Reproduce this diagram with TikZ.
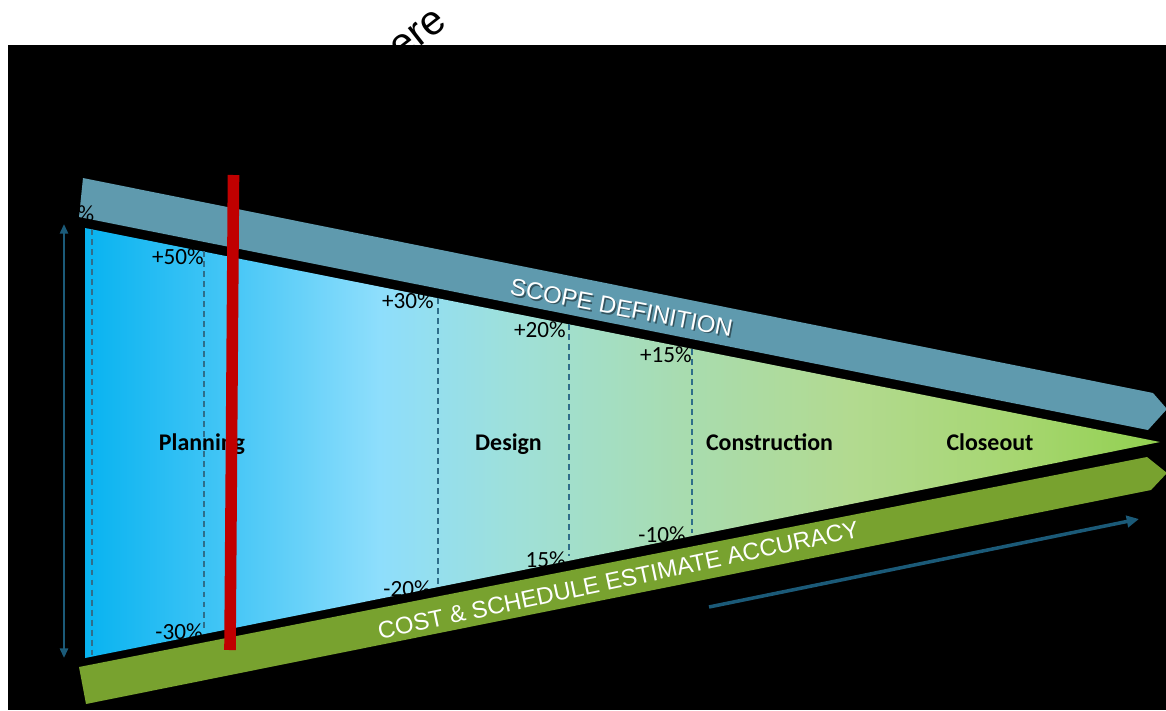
\documentclass[tikz,border=0pt]{standalone}
\usepackage{fontspec}
\setmainfont{Carlito}
\newfontfamily\arialf{Liberation Sans}
\usetikzlibrary{arrows.meta}
\definecolor{fa}{HTML}{08B3F0}
\definecolor{fb}{HTML}{45C6F6}
\definecolor{fc}{HTML}{8EDEFC}
\definecolor{fd}{HTML}{9FE0D8}
\definecolor{fe}{HTML}{A8DCB0}
\definecolor{ff}{HTML}{B2DA90}
\definecolor{fg}{HTML}{A6D670}
\definecolor{fh}{HTML}{92D050}
\definecolor{scopeblue}{HTML}{5F9AAE}
\definecolor{accgreen}{HTML}{78A22F}
\definecolor{barred}{HTML}{C00000}
\definecolor{arrowblue}{HTML}{1B5A78}
\definecolor{dashcol}{HTML}{2F6E8A}
\pgfdeclarehorizontalshading{funnelshade}{100bp}{color(0bp)=(fa); color(25bp)=(fa); color(31.7bp)=(fb); color(38.7bp)=(fc); color(45.2bp)=(fd); color(52.7bp)=(fe); color(60.6bp)=(ff); color(68.5bp)=(fg); color(75bp)=(fh); color(100bp)=(fh)}
\begin{document}
\begin{tikzpicture}[x=0.02cm,y=-0.02cm,
  pct/.style={inner sep=0pt,font=\fontsize{13.2}{15}\selectfont,text=black},
  phase/.style={inner sep=0pt,anchor=base,font=\fontsize{13.6}{16}\selectfont\bfseries,text=black},
  bandtext/.style={inner sep=0pt,anchor=base,font=\arialf\fontsize{13.6}{16}\selectfont,text=white},
  bandshadow/.style={inner sep=0pt,anchor=base,font=\arialf\fontsize{13.6}{16}\selectfont,text=black,opacity=0.45},
  eretext/.style={inner sep=0pt,font=\arialf\fontsize{23.5}{28}\selectfont,text=black,rotate=38},
  dashline/.style={draw=dashcol,line width=0.8pt,dash pattern=on 3.4pt off 2.3pt},
  redbar/.style={draw=barred,line width=6.6pt},
  dimarrow/.style={draw=arrowblue,line width=1.3pt,{Triangle[length=5.5pt,width=4.6pt]}-{Triangle[length=5.5pt,width=4.6pt]}},
  trendarrow/.style={draw=arrowblue,line width=2pt,-{Triangle[length=7pt,width=6.5pt]}}]
\useasboundingbox (0,0) rectangle (1166,710);
\fill[white] (0,0) rectangle (1166,710);
\node[eretext] (ere) at (418,35) {ere};
\fill[black] (8,45) rectangle (1166,710);
% funnel
\path[shading=funnelshade] (85,228) -- (1160,442) -- (85,658) -- cycle;
% dashed phase lines
\draw[dashline] (92,229) -- (92,655);
\draw[dashline] (204,251) -- (204,631);
\draw[dashline] (438,298) -- (438,588);
\draw[dashline] (569,324) -- (569,556);
\draw[dashline] (692,349) -- (692,533);
% percentages
\node[pct,anchor=east] (p50) at (204,257) {+50\%};
\node[pct,anchor=east] (m30) at (203,632) {-30\%};
\node[pct,anchor=east] (p30) at (434,301) {+30\%};
\node[pct,anchor=east] (m20) at (431,589) {-20\%};
\node[pct,anchor=east] (p20) at (566,330) {+20\%};
\node[pct,anchor=east] (m15) at (566,560) {15\%};
\node[pct,anchor=east] (p15) at (692,355) {+15\%};
\node[pct,anchor=east] (m10) at (686,535) {-10\%};
% scope band
\fill[scopeblue] (83,178) -- (1153,393) -- (1167,409) -- (1148,430) -- (79,217) -- cycle;
\node[pct] (ptop) at (86,214) {\%};
\node[bandshadow,rotate=-10.8] (scopesh) at (621.5,317.5) {SCOPE DEFINITION};
\node[bandtext,rotate=-10.8] (scope) at (620,316) {SCOPE DEFINITION};
% accuracy band
\fill[accgreen] (79,667) -- (1147,457) -- (1167,473) -- (1151,490) -- (86,704) -- cycle;
\node[bandtext,rotate=12] (acc) at (620,588) {COST \& SCHEDULE ESTIMATE ACCURACY};
% phases
\node[phase] (plan) at (202,450) {Planning};
\node[phase] (design) at (508.5,450) {Design};
\node[phase] (constr) at (769.5,450) {Construction};
\node[phase] (close) at (990,450) {Closeout};
% arrows
\coordinate (dimlo) at (64,658);
\coordinate (dimhi) at (64,224);
\draw[dimarrow] (dimlo) -- (dimhi);
\coordinate (trendA) at (709,607);
\coordinate (trendB) at (1139,519);
\draw[trendarrow] (trendA) -- (trendB);
% red marker
\coordinate (redtop) at (233.5,175);
\coordinate (redbot) at (230,650);
\draw[redbar] (redtop) -- (redbot);
\end{tikzpicture}
\end{document}
